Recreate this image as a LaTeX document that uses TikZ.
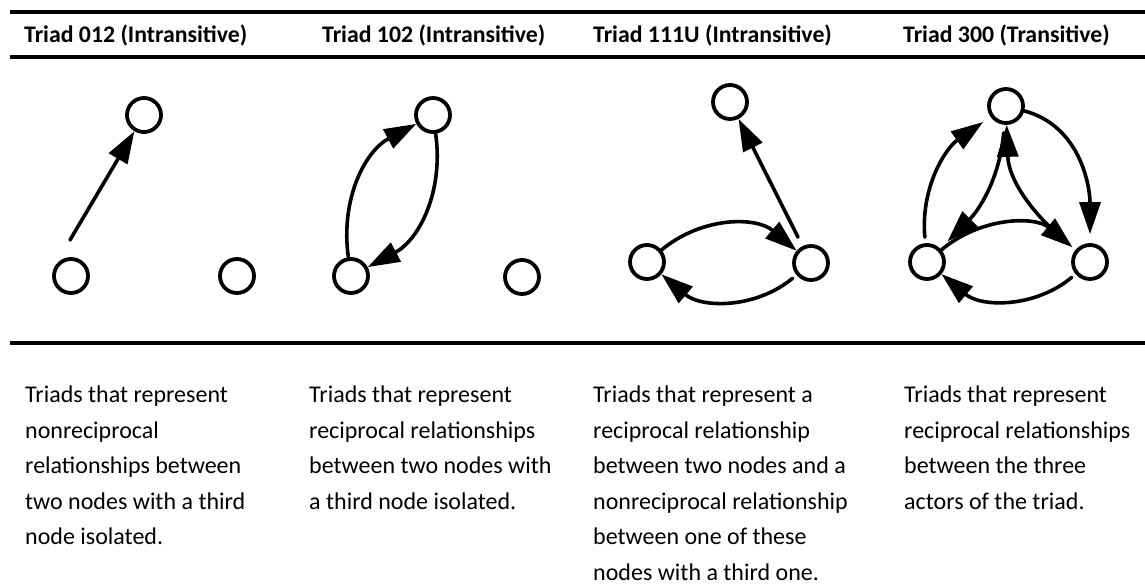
\documentclass[tikz,border=0pt]{standalone}
\usepackage{fontspec}
\setmainfont{Carlito}
\usetikzlibrary{arrows.meta}

\begin{document}
\begin{tikzpicture}[x=1pt, y=1pt, line cap=round, line join=round,
    actor/.style={circle, draw=black, line width=3.8pt, minimum size=34pt, inner sep=0pt},
    tie/.style={line width=3.6pt, -{Triangle[length=32pt, width=21pt]}},
    rule/.style={line width=4pt, line cap=butt},
    title/.style={anchor=base west, inner sep=0pt, font=\bfseries\fontsize{23.8}{28}\selectfont},
    note/.style={anchor=north west, inner sep=0pt, align=left, font=\fontsize{24}{35.5}\selectfont}]
  \useasboundingbox (0,0) rectangle (1145,-586);
  % Rules
  \draw [rule] (10,-12) -- (1145,-12);
  \draw [rule] (10,-57) -- (1145,-57);
  \draw [rule, line width=3.5pt] (10,-343) -- (1145,-343);
  % Headers
  \node [title] (title-1) at (24,-43) {Triad 012 (Intransitive)};
  \node [title] (title-2) at (322,-43) {Triad 102 (Intransitive)};
  \node [title] (title-3) at (593,-43) {Triad 111U (Intransitive)};
  \node [title] (title-4) at (903,-43) {Triad 300 (Transitive)};
  % First triad
  \node [actor] (node-1-1) at (144,-115) {};
  \node [actor] (node-1-2) at (71,-276) {};
  \node [actor] (node-1-3) at (237,-276) {};
  \coordinate (tail-1) at (70,-240);
  \draw [tie] (tail-1) -- (node-1-1);
  % Second triad
  \node [actor] (node-2-1) at (433,-115) {};
  \node [actor] (node-2-2) at (351,-276) {};
  \node [actor] (node-2-3) at (522,-277) {};
  \draw [tie] (node-2-2) to [bend left=35] (node-2-1);
  \draw [tie] (node-2-1) to [bend left=35] (node-2-2);
  % Third triad
  \node [actor] (node-3-1) at (730,-102) {};
  \node [actor] (node-3-2) at (647,-262) {};
  \node [actor] (node-3-3) at (811,-263) {};
  \draw [tie, shorten <=10pt] (node-3-3) -- (node-3-1);
  \draw [tie] (node-3-2) to [bend left=40] (node-3-3);
  \draw [tie, shorten <=5pt] (node-3-3) to [bend left=40] (node-3-2);
  % Fourth triad
  \node [actor] (node-4-1) at (1006,-106) {};
  \node [actor] (node-4-2) at (927,-262) {};
  \node [actor] (node-4-3) at (1090,-262) {};
  \draw [tie, shorten <=6pt, shorten >=9pt] (node-4-2) to [out=95, in=215] (node-4-1);
  \draw [tie, shorten <=8pt, shorten >=10pt] (node-4-1) to [out=265, in=45] (node-4-2);
  \draw [tie, {Triangle[length=32pt, width=21pt]}-, shorten >=12pt] (node-4-1) to [out=272, in=140] (node-4-3);
  \draw [tie, shorten >=9pt] (node-4-1) to [out=-15, in=90] (node-4-3);
  \draw [tie, shorten >=4pt] (node-4-2) to [bend left=40] (node-4-3);
  \draw [tie, shorten <=5pt] (node-4-3) to [bend left=40] (node-4-2);
  % Descriptions
  \node [note] (text-1) at (25,-386) {Triads that represent\\nonreciprocal\\relationships between\\two nodes with a third\\node isolated.};
  \node [note] (text-2) at (309,-386) {Triads that represent\\reciprocal relationships\\between two nodes with\\a third node isolated.};
  \node [note] (text-3) at (593,-386) {Triads that represent a\\reciprocal relationship\\between two nodes and a\\nonreciprocal relationship\\between one of these\\nodes with a third one.};
  \node [note] (text-4) at (904,-386) {Triads that represent\\reciprocal relationships\\between the three\\actors of the triad.};
\end{tikzpicture}
\end{document}
